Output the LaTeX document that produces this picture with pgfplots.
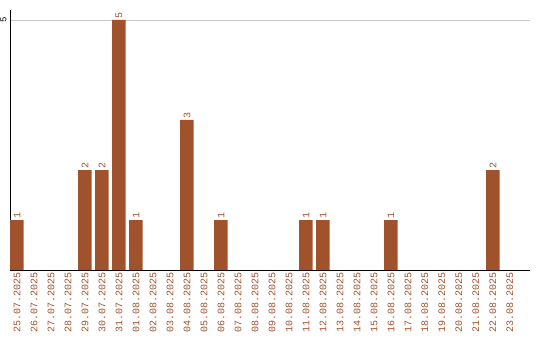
\documentclass[border=0pt]{standalone}
\usepackage{fontspec}
\setmainfont{Liberation Mono}
\usepackage{pgfplots}
\pgfplotsset{compat=1.18}
\definecolor{barc}{HTML}{A0522D}
\definecolor{gridc}{HTML}{C8C8C8}
\begin{document}
\begin{tikzpicture}
\useasboundingbox (-10pt,-70pt) rectangle (530pt,270pt);
\begin{axis}[
  at={(0,0)}, anchor=south west,
  scale only axis, width=520pt, height=260pt,
  xmin=-0.41, xmax=30.18, ymin=0, ymax=5.2,
  axis x line*=bottom, axis y line*=left,
  axis line style={black, line width=0.8pt, -},
  ytick={5}, yticklabel style={rotate=90, anchor=south, font=\fontsize{9}{10}\selectfont, black},
  ymajorgrids, grid style={gridc, line width=0.8pt},
  major tick length=0pt,
  xtick={0,...,29},
  xticklabels={25.07.2025,26.07.2025,27.07.2025,28.07.2025,29.07.2025,30.07.2025,31.07.2025,01.08.2025,02.08.2025,03.08.2025,04.08.2025,05.08.2025,06.08.2025,07.08.2025,08.08.2025,09.08.2025,10.08.2025,11.08.2025,12.08.2025,13.08.2025,14.08.2025,15.08.2025,16.08.2025,17.08.2025,18.08.2025,19.08.2025,20.08.2025,21.08.2025,22.08.2025,23.08.2025},
  xticklabel style={rotate=90, anchor=east, text=barc, font=\fontsize{10}{11}\selectfont, inner sep=2pt},
  /pgf/number format/assume math mode=true,
  ybar, bar width=13.5pt, bar shift=0pt,
  nodes near coords,
  nodes near coords style={rotate=90, anchor=west, text=barc, font=\fontsize{10}{11}\selectfont, inner sep=1.5pt},
  clip=false,
]
\addplot[fill=barc, draw=none] coordinates {
(0,1) (4,2) (5,2) (6,5) (7,1) (10,3) (12,1) (17,1) (18,1) (22,1) (28,2)
};
\end{axis}
\end{tikzpicture}
\end{document}
